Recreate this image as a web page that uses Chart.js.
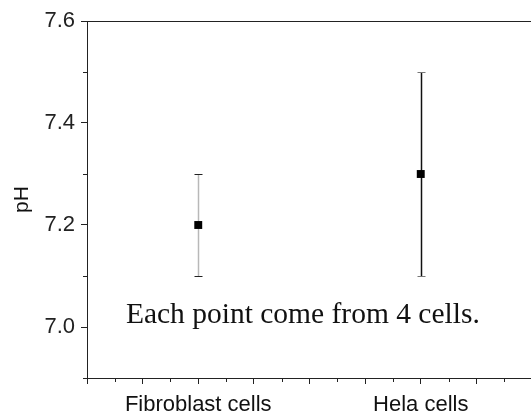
<!DOCTYPE html>
<html>
<head>
<meta charset="utf-8">
<script src="https://cdn.jsdelivr.net/npm/chart.js@4/dist/chart.umd.min.js"></script>
<style>
  html, body { margin: 0; padding: 0; background: #fff; overflow: hidden; }
  canvas { display: block; }
</style>
</head>
<body>
<canvas id="phChart" width="532" height="415"></canvas>
<script>
// data
const categories = ['Fibroblast cells', 'Hela cells'];
const catPos = [1, 2];
const phMean = [7.2, 7.3];
const phLow = [7.1, 7.1];
const phHigh = [7.3, 7.5];
const yMajorTicks = [7.0, 7.2, 7.4, 7.6];
const note = 'Each point come from 4 cells.';

const barColors = ['#b8b8b8', '#111'];
const capColors = ['#222', '#777'];

const errorBars = {
    id: 'errorBars',
    beforeDatasetsDraw(chart) {
        const { ctx, scales: { x, y } } = chart;
        ctx.save();
        for (let i = 0; i < catPos.length; i++) {
            const px = Math.round(x.getPixelForValue(catPos[i])) + 0.5;
            const top = y.getPixelForValue(phHigh[i]);
            const bot = y.getPixelForValue(phLow[i]);
            ctx.lineWidth = 1.5;
            ctx.strokeStyle = barColors[i];
            ctx.beginPath();
            ctx.moveTo(px, top);
            ctx.lineTo(px, bot);
            ctx.stroke();
            ctx.lineWidth = 1;
            ctx.strokeStyle = capColors[i];
            ctx.beginPath();
            ctx.moveTo(px - 4, Math.round(top) + 0.5);
            ctx.lineTo(px + 4, Math.round(top) + 0.5);
            ctx.moveTo(px - 4, Math.round(bot) + 0.5);
            ctx.lineTo(px + 4, Math.round(bot) + 0.5);
            ctx.stroke();
        }
        ctx.restore();
    }
};

const frame = {
    id: 'frame',
    afterDraw(chart) {
        const { ctx, chartArea: a, scales: { x, y } } = chart;
        ctx.save();
        ctx.strokeStyle = '#222';
        ctx.lineWidth = 1;
        ctx.beginPath();
        // top line
        ctx.moveTo(a.left, Math.round(a.top) + 0.5);
        ctx.lineTo(a.right, Math.round(a.top) + 0.5);
        // minor ticks
        x.ticks.forEach(t => {
            if (t.minor) {
                const px = Math.round(x.getPixelForValue(t.value)) + 0.5;
                ctx.moveTo(px, a.bottom);
                ctx.lineTo(px, a.bottom + 4);
            }
        });
        y.ticks.forEach(t => {
            if (t.minor) {
                const py = Math.round(y.getPixelForValue(t.value)) + 0.5;
                ctx.moveTo(a.left - 4, py);
                ctx.lineTo(a.left, py);
            }
        });
        ctx.stroke();
        // note text
        ctx.fillStyle = '#111';
        ctx.font = '29.5px "Liberation Serif", "Times New Roman", serif';
        ctx.textAlign = 'center';
        ctx.textBaseline = 'alphabetic';
        ctx.fillText(note, x.getPixelForValue(1.47), y.getPixelForValue(7.008));
        ctx.restore();
    }
};

const isMajorX = v => Math.abs(v * 4 - Math.round(v * 4)) < 1e-6;
const isMajorY = v => yMajorTicks.some(m => Math.abs(m - v) < 1e-6);

new Chart(document.getElementById('phChart'), {
    type: 'scatter',
    data: {
        datasets: [{
            label: 'pH',
            data: catPos.map((c, i) => ({ x: c, y: phMean[i] })),
            pointStyle: 'rect',
            pointRadius: 5.6,
            pointHoverRadius: 5.6,
            backgroundColor: '#000',
            borderColor: '#000',
            borderWidth: 0
        }]
    },
    options: {
        responsive: false,
        animation: false,
        layout: { autoPadding: false, padding: { top: 21, right: 0, bottom: 0, left: 0 } },
        plugins: {
            legend: { display: false },
            tooltip: { enabled: false }
        },
        scales: {
            x: {
                type: 'linear',
                min: 0.5,
                max: 2.5,
                afterBuildTicks: scale => {
                    const t = [];
                    for (let k = 0; k <= 16; k++) {
                        const v = 0.5 + k * 0.125;
                        t.push({ value: v, minor: !isMajorX(v) });
                    }
                    scale.ticks = t;
                },
                afterFit: scale => {
                    scale.height = 37;
                    scale.paddingLeft = 0;
                    scale.paddingRight = 0;
                },
                border: { color: '#222', width: 1 },
                grid: {
                    drawOnChartArea: false,
                    tickLength: 6,
                    tickColor: c => (c.tick && c.tick.minor) ? 'rgba(0,0,0,0)' : '#222'
                },
                ticks: {
                    autoSkip: false,
                    maxRotation: 0,
                    padding: 8,
                    color: '#111',
                    font: { family: 'Arial, "Liberation Sans", sans-serif', size: 22 },
                    callback: v => {
                        const i = catPos.findIndex(c => Math.abs(c - v) < 1e-6);
                        return i >= 0 ? categories[i] : '';
                    }
                }
            },
            y: {
                min: 6.9,
                max: 7.6,
                afterBuildTicks: scale => {
                    const t = [];
                    for (let k = 0; k <= 7; k++) {
                        const v = Math.round((6.9 + k * 0.1) * 10) / 10;
                        t.push({ value: v, minor: !isMajorY(v) });
                    }
                    scale.ticks = t;
                },
                afterFit: scale => { scale.width = 87; },
                border: { color: '#222', width: 1 },
                grid: {
                    drawOnChartArea: false,
                    tickLength: 6,
                    tickColor: c => (c.tick && c.tick.minor) ? 'rgba(0,0,0,0)' : '#222'
                },
                title: {
                    display: true,
                    text: 'pH',
                    color: '#111',
                    padding: { top: 10, bottom: 0 },
                    font: { family: 'Arial, "Liberation Sans", sans-serif', size: 21 }
                },
                ticks: {
                    autoSkip: false,
                    padding: 6,
                    color: '#222',
                    font: { family: 'Arial, "Liberation Sans", sans-serif', size: 22 },
                    callback: v => isMajorY(v) ? v.toFixed(1) : ''
                }
            }
        }
    },
    plugins: [errorBars, frame]
});
</script>
</body>
</html>
